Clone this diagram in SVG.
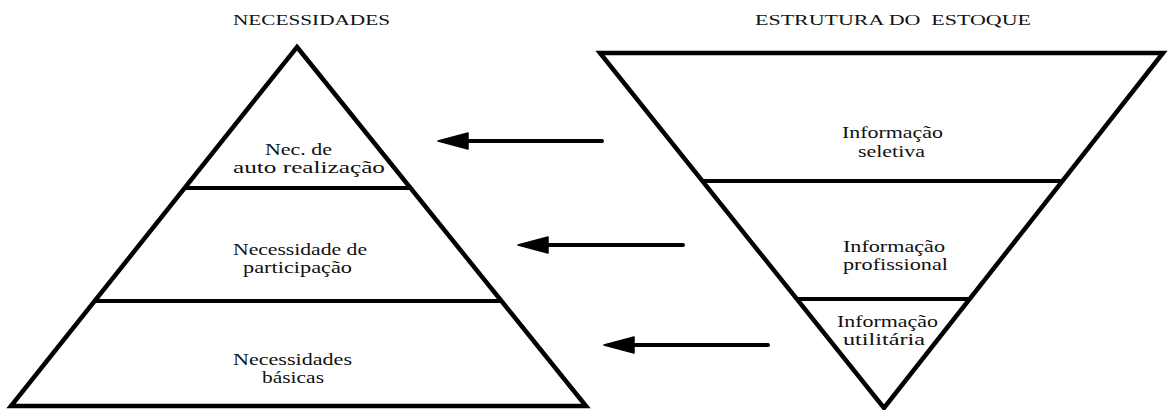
<svg xmlns="http://www.w3.org/2000/svg" width="1172" height="410" viewBox="0 0 1172 410">
  <defs>
    <style>
      .shape { fill: none; stroke: #000; stroke-width: 4.5; stroke-linejoin: miter; }
      .div { stroke: #000; stroke-width: 4; }
      .title { font-family: "Liberation Serif", serif; font-size: 15px; fill: #111; }
      .lbl { font-family: "Liberation Serif", serif; font-size: 17px; fill: #111; }
      .conn { stroke: #000; stroke-width: 4; stroke-linecap: round; }
      .head { fill: #000; stroke: #000; stroke-width: 1.5; stroke-linejoin: round; }
    </style>
  </defs>
  <rect width="1172" height="410" fill="#fff"/>

  <!-- headings -->
  <text class="title" x="233" y="25" textLength="157" lengthAdjust="spacingAndGlyphs">NECESSIDADES</text>
  <text class="title" x="755" y="25" textLength="276" lengthAdjust="spacingAndGlyphs" xml:space="preserve">ESTRUTURA DO  ESTOQUE</text>

  <!-- needs pyramid -->
  <g id="pyramid">
    <polygon class="shape" points="297,47 586,406 11,406"/>
    <line class="div" x1="185" y1="188" x2="410" y2="188"/>
    <line class="div" x1="95" y1="301" x2="500" y2="301"/>
  </g>
  <g id="nec-auto">
    <text class="lbl" x="265" y="155" textLength="67" lengthAdjust="spacingAndGlyphs">Nec. de</text>
    <text class="lbl" x="233" y="173" textLength="152" lengthAdjust="spacingAndGlyphs">auto realização</text>
  </g>
  <g id="nec-participacao">
    <text class="lbl" x="233" y="255" textLength="134" lengthAdjust="spacingAndGlyphs">Necessidade de</text>
    <text class="lbl" x="243" y="273" textLength="109" lengthAdjust="spacingAndGlyphs">participação</text>
  </g>
  <g id="nec-basicas">
    <text class="lbl" x="233" y="365" textLength="119" lengthAdjust="spacingAndGlyphs">Necessidades</text>
    <text class="lbl" x="262" y="383" textLength="62" lengthAdjust="spacingAndGlyphs">básicas</text>
  </g>

  <!-- stock structure, inverted pyramid -->
  <g id="estoque">
    <polygon class="shape" points="600,53 1163,53 884,408"/>
    <line class="div" x1="703" y1="181" x2="1063" y2="181"/>
    <line class="div" x1="797" y1="299" x2="971" y2="299"/>
  </g>
  <g id="info-seletiva">
    <text class="lbl" x="842" y="138" textLength="101" lengthAdjust="spacingAndGlyphs">Informação</text>
    <text class="lbl" x="858" y="157" textLength="67" lengthAdjust="spacingAndGlyphs">seletiva</text>
  </g>
  <g id="info-profissional">
    <text class="lbl" x="843" y="252" textLength="102" lengthAdjust="spacingAndGlyphs">Informação</text>
    <text class="lbl" x="843" y="270" textLength="105" lengthAdjust="spacingAndGlyphs">profissional</text>
  </g>
  <g id="info-utilitaria">
    <text class="lbl" x="837" y="327" textLength="101" lengthAdjust="spacingAndGlyphs">Informação</text>
    <text class="lbl" x="843" y="345" textLength="82" lengthAdjust="spacingAndGlyphs">utilitária</text>
  </g>

  <!-- connectors -->
  <g id="connectors">
    <line class="conn" x1="602" y1="141" x2="466" y2="141"/>
    <polygon class="head" points="438,141 468,133 468,149"/>
    <line class="conn" x1="683" y1="245" x2="546" y2="245"/>
    <polygon class="head" points="518,245 548,237 548,253"/>
    <line class="conn" x1="768" y1="345" x2="632" y2="345"/>
    <polygon class="head" points="604,345 634,337 634,353"/>
  </g>
</svg>
